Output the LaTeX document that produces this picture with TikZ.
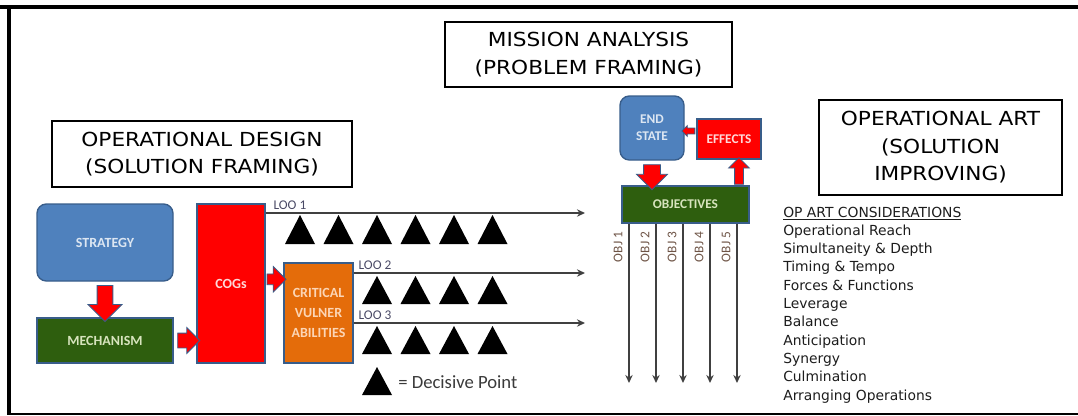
\documentclass[tikz,border=0pt]{standalone}
\usepackage{fontspec}
\setmainfont{DejaVu Sans}
\newfontfamily\calfont{Carlito}
\newfontfamily\titlefont{DejaVu Sans}[FakeStretch=1.12]
\usetikzlibrary{shapes.arrows,arrows.meta,calc}
\definecolor{boxblue}{HTML}{4F81BD}
\definecolor{edgeblue}{HTML}{385D8A}
\definecolor{darkgreen}{RGB}{46,94,14}
\definecolor{cvorange}{HTML}{E46C0A}
\definecolor{loogray}{HTML}{404040}
\definecolor{lootext}{HTML}{4A4A66}
\definecolor{objtext}{HTML}{6E5446}
\definecolor{listtext}{HTML}{1C1C1C}
\definecolor{bluetext}{HTML}{DCE6F2}
\definecolor{greentext}{HTML}{D7E4BD}
\definecolor{redtext}{HTML}{FFD9D9}
\definecolor{orangetext}{HTML}{FCD5B5}
\definecolor{dptext}{HTML}{3A3A3A}

\begin{document}
\begin{tikzpicture}[x=0.75pt,y=-0.75pt,
    title/.style={draw=black,line width=0.8pt,align=center,inner sep=0pt,
      font=\titlefont\fontsize{14.5}{20.6}\selectfont},
    block/.style={draw=edgeblue,line width=1pt,align=center,inner sep=0pt,
      font=\calfont\bfseries\fontsize{10.5}{15}\selectfont},
    redarrow/.style={single arrow,draw=edgeblue,fill=red,line width=0.6pt,
      inner xsep=0pt,minimum width=0pt,single arrow tip angle=90},
    loo/.style={draw=loogray,line width=1.2pt,-{Stealth[length=6pt,width=5.5pt]}},
    objline/.style={draw=loogray,line width=1.2pt,-{Stealth[length=6pt,width=5.5pt]}},
    lootag/.style={font=\calfont\fontsize{10}{10}\selectfont,text=lootext,inner sep=1pt},
    objtag/.style={font=\calfont\fontsize{10}{10}\selectfont,text=objtext,inner sep=0pt,rotate=90},
    listitem/.style={font=\fontsize{10.4}{12}\selectfont,text=listtext,anchor=base west,inner sep=0pt}]
  \useasboundingbox (0,0) rectangle (1078,415);

  % frame
  \draw[line width=3pt] (0,7) -- (1078,7);
  \draw[line width=3pt] (8.5,5.5) -- (8.5,414);
  \draw[line width=1.5pt] (7,413.5) -- (1078,413.5);

  % titles
  \node[title,minimum width=215.25pt,minimum height=48.75pt] (ma) at (588.5,54.5)
    {MISSION ANALYSIS\\(PROBLEM FRAMING)};
  \node[title,minimum width=225pt,minimum height=49.5pt] (od) at (202,154)
    {OPERATIONAL DESIGN\\(SOLUTION FRAMING)};
  \node[title,minimum width=182.25pt,minimum height=71.25pt] (oa) at (940.5,147.5)
    {OPERATIONAL ART\\(SOLUTION\\IMPROVING)};

  % operational design
  \node[block,fill=boxblue,rounded corners=7pt,text=bluetext,
    minimum width=102pt,minimum height=57.75pt] (strat) at (105,242.5) {STRATEGY};
  \node[block,fill=darkgreen,text=greentext,
    minimum width=102pt,minimum height=33.75pt] (mech) at (105,340.5) {MECHANISM};
  \node[block,fill=red,text=redtext,
    minimum width=51pt,minimum height=119.25pt] (cogs) at (231,283.5) {COGs};
  \node[block,fill=cvorange,text=orangetext,
    minimum width=51.75pt,minimum height=75pt] (cv) at (318.5,313)
    {CRITICAL\\VULNER\\ABILITIES};

  \node[redarrow,rotate=-90,minimum height=27pt,inner ysep=5.6pt,
    single arrow head extend=6.75pt] (a1) at ($(strat.south)!.5!(mech.north)$) {};
  \node[redarrow,minimum height=16.5pt,inner ysep=5.25pt,
    single arrow head extend=4.1pt] (a2) at ($(mech.east)!.5!(mech.east -| cogs.west)$) {};
  \node[redarrow,minimum height=14.25pt,inner ysep=3.75pt,
    single arrow head extend=5.6pt] (a3) at ($(cv.north west)+(-9.5,17)$) {};

  % lines of operation
  \coordinate (l1) at (585,213);
  \coordinate (l2) at (585,273);
  \coordinate (l3) at (585,323);
  \draw[loo] (cogs.east |- l1) -- (l1);
  \draw[loo] (cv.east |- l2) -- (l2);
  \draw[loo] (cv.east |- l3) -- (l3);
  \node[lootag,anchor=base west] (t1) at (272,209) {LOO 1};
  \node[lootag,anchor=base west] (t2) at (357,269) {LOO 2};
  \node[lootag,anchor=base west] (t3) at (357,319) {LOO 3};

  % decisive points
  \foreach \x in {300,338.5,377,415.5,454,492.5}
    \fill (\x,215) -- ++(15,29) -- ++(-30,0) -- cycle;
  \foreach \x in {377,415.5,454,492.5} {
    \fill (\x,276) -- ++(15,28) -- ++(-30,0) -- cycle;
    \fill (\x,326) -- ++(15,28) -- ++(-30,0) -- cycle;
  }
  \fill (377,367) -- ++(15,28) -- ++(-30,0) -- cycle;
  \node[font=\calfont\fontsize{14}{14}\selectfont,text=dptext,anchor=west,
    inner sep=0pt] (dp) at (398,382) {= Decisive Point};

  % mission analysis
  \node[block,fill=boxblue,rounded corners=7pt,text=bluetext,
    font=\calfont\bfseries\fontsize{10}{13}\selectfont,
    minimum width=48pt,minimum height=48pt] (endst) at (652,128) {END\\STATE};
  \node[block,fill=red,text=redtext,font=\calfont\bfseries\fontsize{10}{12}\selectfont,
    minimum width=48pt,minimum height=30pt] (eff) at (729,139) {EFFECTS};
  \node[block,fill=darkgreen,text=greentext,font=\calfont\bfseries\fontsize{10}{12}\selectfont,
    minimum width=95.25pt,minimum height=27.75pt] (obj) at (685.5,204.5) {OBJECTIVES};

  \node[redarrow,rotate=-90,minimum height=18.75pt,inner ysep=6pt,
    single arrow head extend=5.25pt] (a4) at ($(endst.south)!.5!(endst.south |- obj.north)$) {};
  \node[redarrow,rotate=90,minimum height=20pt,inner ysep=3pt,
    single arrow head extend=4.5pt] (a5) at ($(eff.south)+(10,13.5)$) {};
  \node[redarrow,rotate=180,minimum height=9.75pt,inner ysep=1.9pt,
    single arrow head extend=1.9pt] (a6) at ($(eff.west)+(-6.5,-8)$) {};

  \foreach \i/\x in {1/629,2/656,3/683,4/710,5/737} {
    \coordinate (o\i) at (\x,383);
    \draw[objline] (obj.south -| o\i) -- (o\i);
    \node[objtag] (ot\i) at (\x-11,247) {OBJ \i};
  }

  % operational art
  \node[listitem] (head) at (783,217) {\underline{OP ART CONSIDERATIONS}};
  \foreach \t [count=\i] in {Operational Reach,Simultaneity \& Depth,Timing \& Tempo,
      Forces \& Functions,Leverage,Balance,Anticipation,Synergy,Culmination,
      Arranging Operations}
    \node[listitem] (item\i) at (783,217+18.3*\i) {\t};
\end{tikzpicture}
\end{document}
